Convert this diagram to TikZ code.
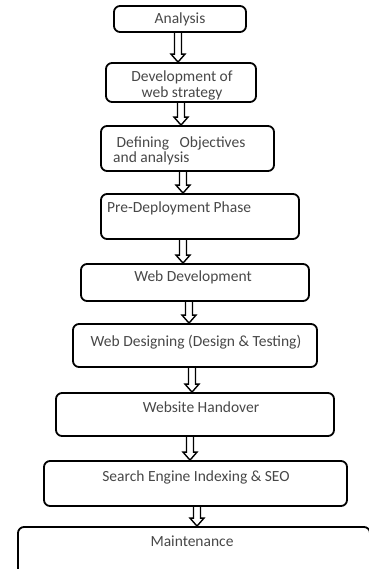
\documentclass[tikz,border=0pt]{standalone}
\usepackage{fontspec}
\setmainfont{Carlito}
\usetikzlibrary{calc}

\tikzset{
  stage/.style={draw, line width=1.8pt, rounded corners=6pt, inner sep=0pt},
  stagetext/.style={inner sep=0pt, text=black!72, font=\fontsize{15.5}{15.5}\selectfont},
  hollow/.style={line width=1.4pt, line join=miter}
}

\begin{document}
\begin{tikzpicture}[x=1pt,y=-1pt]
    % picture size
      \useasboundingbox (0,0) rectangle (368,569);

    % half widths of the hollow arrows
      \def\shaftw{3.5}
      \def\headw{7}
      \def\headlen{8}

      \newcommand{\hollowarrow}[3]{%
        \coordinate (top) at (#3,0 |- #1.south);
        \coordinate (tip) at (#3,0 |- #2.north);
        \draw[hollow] ($(top)+(-\shaftw,0)$) -- ($(tip)+(-\shaftw,-\headlen)$)
          -- ($(tip)+(-\headw,-\headlen)$) -- (tip)
          -- ($(tip)+(\headw,-\headlen)$) -- ($(tip)+(\shaftw,-\headlen)$)
          -- ($(top)+(\shaftw,0)$);
      }

    % Draw the boxes
      \node[stage, minimum width=132, minimum height=26] (analysis)  at (180,19)    {};
      \node[stage, minimum width=150, minimum height=39] (strategy)  at (181,82.5)  {};
      \node[stage, minimum width=173, minimum height=45] (objective) at (187.5,148.5) {};
      \node[stage, minimum width=198, minimum height=45] (predeploy) at (200,216.5) {};
      \node[stage, minimum width=228, minimum height=37] (webdev)    at (195,282.5) {};
      \node[stage, minimum width=244, minimum height=43] (design)    at (195,345.5) {};
      \node[stage, minimum width=278, minimum height=43] (handover)  at (195,414.5) {};
      \node[stage, minimum width=303, minimum height=45] (seo)       at (195.5,483.5) {};
      \node[stage, minimum width=352, minimum height=52] (maintain)  at (194,553)   {};

    % Draw the texts
      \node[stagetext, anchor=mid] (analysist) at (180,21.5) {Analysis};
      \node[stagetext, align=center] (strategyt) at (182,85.5) {Development of\\web strategy};
      \node[stagetext, align=left, anchor=west] (objectivet) at (113,151)
        {\ Defining\ \ \ Objectives\\and analysis};
      \node[stagetext, anchor=mid west] (predeployt) at (107,210.5) {Pre-Deployment Phase};
      \node[stagetext, anchor=mid] (webdevt)   at (193,279.5) {Web Development};
      \node[stagetext, anchor=mid] (designt)   at (196,344.5) {Web Designing (Design \& Testing)};
      \node[stagetext, anchor=mid] (handovert) at (201,410.5) {Website Handover};
      \node[stagetext, anchor=mid] (seot)      at (196,479.5) {Search Engine Indexing \& SEO};
      \node[stagetext, anchor=mid] (maintaint) at (192,544.5) {Maintenance};

    % Draw the arrows between the boxes
      \hollowarrow{analysis}{strategy}{178}
      \hollowarrow{strategy}{objective}{181}
      \hollowarrow{objective}{predeploy}{183}
      \hollowarrow{predeploy}{webdev}{183}
      \hollowarrow{webdev}{design}{189}
      \hollowarrow{design}{handover}{192}
      \hollowarrow{handover}{seo}{190}
      \hollowarrow{seo}{maintain}{197}

\end{tikzpicture}
\end{document}
